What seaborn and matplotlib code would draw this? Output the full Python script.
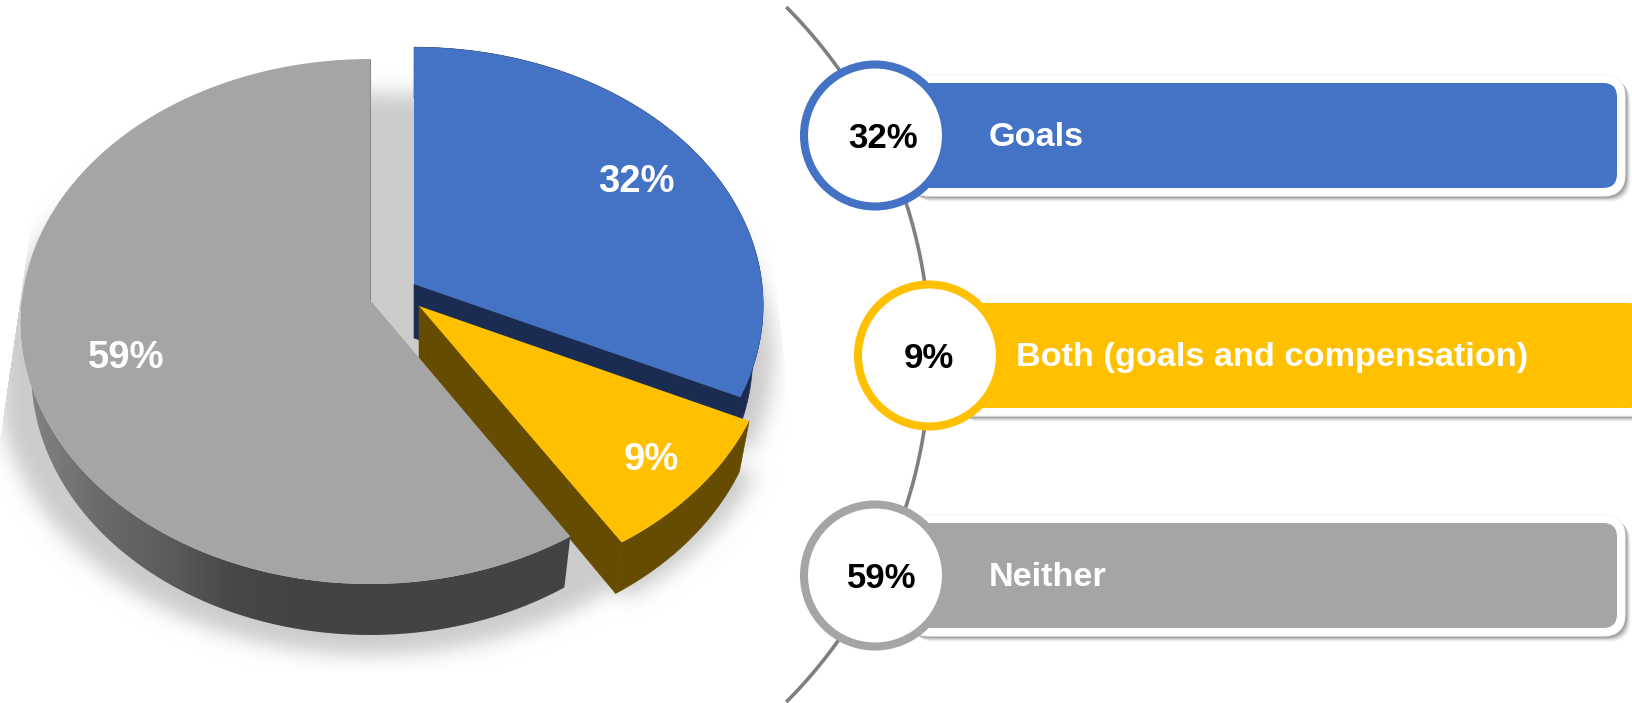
import numpy as np
import seaborn as sns
import matplotlib.pyplot as plt
from matplotlib.patches import Polygon, Circle, FancyBboxPatch
from matplotlib.path import Path

categories = ["Goals", "Both (goals and compensation)", "Neither"]
values = [32, 9, 59]
colors = ["#4472C4", "#FFC000", "#A5A5A5"]
wall_colors = ["#1A2C52", "#664C00", "#444444"]
grey_side = ["#828282", "#6B6B6B", "#5C5C5C", "#474747", "#434343"]

W, H = 1633, 703

sns.set_theme(style="white")
plt.rcParams['font.family'] = ['Liberation Sans', 'DejaVu Sans']

fig = plt.figure(figsize=(W / 100, H / 100), dpi=100)
ax = fig.add_axes([0, 0, 1, 1])
ax.set_xlim(0, W)
ax.set_ylim(H, 0)
ax.axis("off")

# slice layout, pie is viewed in perspective so the front looks bigger
apex = [(414, 284), (419, 306), (370, 300)]
x_scale = [1.0, 1.012, 1.0]
y_scale = [0.983, 1.0, 1.0]
RX, RY, K = 348, 260.7, 0.082
DEPTH, BOTTOM_X = 51, 0.97

cum = np.cumsum([0] + values) * 3.6
spans = list(zip(cum[:-1], cum[1:]))


def project(theta, i, scale=1.0):
    t = np.radians(theta)
    u, v = np.sin(t), np.cos(t)
    s = 1 / (1 + K * v)
    return apex[i][0] + RX * x_scale[i] * u * s * scale, apex[i][1] - RY * y_scale[i] * v * s * scale


def lower(theta, i):
    x, y = project(theta, i)
    return apex[i][0] + (x - apex[i][0]) * BOTTOM_X, y + DEPTH


# soft shadow under the pie, cropped like the 3d render
xx, yy = np.meshgrid(np.arange(W) + 0.5, np.arange(H) + 0.5)
pts = np.column_stack([xx.ravel(), yy.ravel()])
mask = np.zeros(W * H, dtype=bool)
shadow_scale = [1.03, 1.02, 1.07]
for i, (a, b) in enumerate(spans):
    # the grey one uses the whole ellipse so the gap between slices is shaded too
    th = np.linspace(0, 360, 240) if i == 2 else np.linspace(a, b, 120)
    px, py = project(th, i, shadow_scale[i])
    poly = np.column_stack([px, py + DEPTH])
    poly = np.vstack([[apex[i][0], apex[i][1] + DEPTH], poly]) if i != 2 else poly
    mask |= Path(poly).contains_points(pts)
mask = mask.reshape(H, W).astype(float)
kx = np.arange(-30, 31)
kernel = np.exp(-kx ** 2 / (2 * 10.0 ** 2))
kernel /= kernel.sum()
blur = np.apply_along_axis(lambda r: np.convolve(r, kernel, mode="same"), 0, mask)
blur = np.apply_along_axis(lambda r: np.convolve(r, kernel, mode="same"), 1, blur)
crop = Path([(58, 40), (0, 440), (0, 672), (800, 672), (793, 440), (749, 40)]).contains_points(pts).reshape(H, W)
rgba = np.zeros((H, W, 4))
rgba[..., :3] = 0.8
rgba[..., 3] = blur * crop
ax.imshow(rgba, extent=(0, W, H, 0), aspect="auto", zorder=0, interpolation="nearest")

# blue and yellow sides
for i, zo, n in [(0, 1, 100), (1, 2, 60)]:
    a, b = spans[i]
    th = np.linspace(a, b, n)
    tx, ty = project(th, i)
    lx, ly = lower(th, i)
    # wall under the cut edge, then the outer rim
    ax.add_patch(Polygon([(apex[i][0], apex[i][1]), (tx[-1], ty[-1]), (lx[-1], ly[-1]),
                          (apex[i][0], apex[i][1] + DEPTH + (3 if i == 0 else 1))],
                         fc=wall_colors[i], ec=wall_colors[i], lw=0.4, zorder=zo))
    ax.add_patch(Polygon(np.column_stack([np.r_[tx, lx[::-1]], np.r_[ty, ly[::-1]]]),
                         fc=wall_colors[i], ec=wall_colors[i], lw=0.4, zorder=zo))

# grey side, gradient from left to right, clipped to the rim
a, b = spans[2]
th = np.linspace(a, b, 260)
tx, ty = project(th, 2)
lx, ly = lower(th, 2)
rim = Polygon(np.column_stack([np.r_[tx, lx[::-1]], np.r_[ty, ly[::-1]]]), fc="none", ec="none", zorder=3,
              transform=ax.transData)
ax.add_patch(rim)
pal = np.array(sns.blend_palette(grey_side, n_colors=256))
grad_x = np.arange(0, 640)
grad = pal[(np.clip((grad_x - 30) / 270, 0, 1) * 255).astype(int)][None, :, :3]
im = ax.imshow(grad, extent=(0, 640, 660, 300), aspect="auto", zorder=3, interpolation="bilinear")
im.set_clip_path(rim)

# top faces
for i in [2, 0, 1]:
    a, b = spans[i]
    px, py = project(np.linspace(a, b, 240), i)
    ax.add_patch(Polygon(np.column_stack([np.r_[apex[i][0], px], np.r_[apex[i][1], py]]), fc=colors[i], ec="none", zorder=4))
px, py = project(0, 2)
ax.plot([apex[2][0], px], [apex[2][1], py], color="#8C8C8C", lw=0.8, zorder=4)

# pie labels
pie_label_pos = [(636, 182), (651, 460), (126, 358)]
for v, (x, y) in zip(values, pie_label_pos):
    ax.text(x, y, f"{v}%", color="white", fontsize=27.5, fontweight="bold", ha="center", va="center", zorder=5)

# curve behind the circles
arc_y = np.linspace(7, 702, 300)
ax.plot(438 + np.sqrt(492 ** 2 - (arc_y - 354.5) ** 2), arc_y, color="#7F7F7F", lw=2.6, zorder=1, solid_capstyle="butt")

# cards on the right
centers = [(875, 135.5), (929, 355.5), (875, 575.5)]
right = [1617, 1633, 1617]
text_x = [989, 1016, 989]
num_dx = [8, 0, 7]
for i, cat in enumerate(categories):
    cx, cy = centers[i]
    top, bot = cy - 52.5, cy + 52.5
    rad = 14 if right[i] < W else 3
    pad = 8
    x0 = cx + 40
    card_w = right[i] + (20 if right[i] == W else 0) - x0
    # drop shadow of white card
    for off, al in [(6, 0.05), (5, 0.08), (4, 0.12), (3, 0.18), (2, 0.25)]:
        ax.add_patch(FancyBboxPatch((x0 + off, top + off), card_w, bot - top,
                                    boxstyle=f"round,pad={pad},rounding_size={rad + pad}", fc="#555555", ec="none",
                                    alpha=al, zorder=5))
    ax.add_patch(FancyBboxPatch((x0, top), card_w, bot - top,
                                boxstyle=f"round,pad={pad},rounding_size={rad + pad}", fc="white", ec="#F6F6F6", lw=0.8,
                                zorder=5.5))
    ax.add_patch(FancyBboxPatch((cx, top), right[i] - cx, bot - top, boxstyle=f"round,pad=0,rounding_size={rad}",
                                fc=colors[i], ec="none", zorder=6))
    ax.add_patch(Circle((cx, cy), 71, fc="white", ec=colors[i], lw=5.8, zorder=7))
    ax.text(cx + num_dx[i], cy + 2.5, f"{values[i]}%", color="black", fontsize=25, fontweight="bold",
            ha="center", va="center", zorder=8)
    ax.text(text_x[i], cy + 2, cat, color="white", fontsize=24.7, fontweight="bold", ha="left", va="center", zorder=8)

ax.set_xlim(0, W)
ax.set_ylim(H, 0)
fig.savefig("out.png", dpi=100)
